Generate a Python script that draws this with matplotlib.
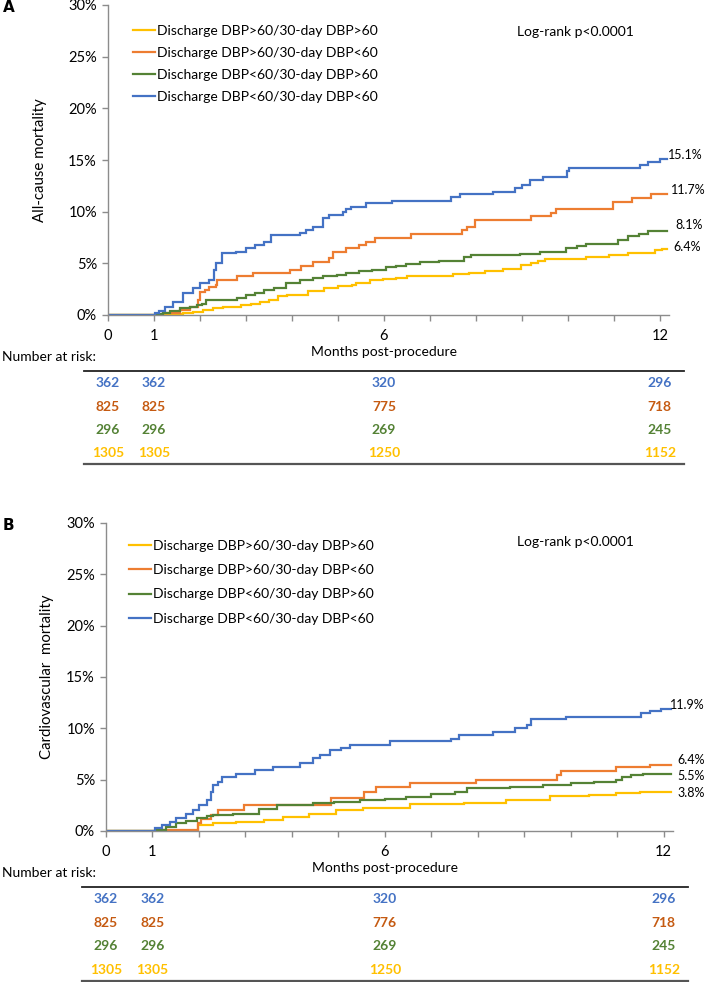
import matplotlib.pyplot as plt
from matplotlib.lines import Line2D
from matplotlib.transforms import blended_transform_factory

plt.rcParams['font.family'] = ['Lato', 'DejaVu Sans']

# groups in legend order
groups = ['Discharge DBP>60/30-day DBP>60', 'Discharge DBP>60/30-day DBP<60',
          'Discharge DBP<60/30-day DBP>60', 'Discharge DBP<60/30-day DBP<60']
line_colors = ['#FFC000', '#ED7D31', '#548235', '#4472C4']
risk_colors = ['#FFC000', '#C55A11', '#548235', '#4472C4']

# (month, cumulative %) change points
yellow_A = [(0, 0), (1.55, 0.1), (1.63, 0.16), (1.85, 0.25), (2.07, 0.5), (2.28, 0.65), (2.5, 0.74),
            (2.78, 0.8), (2.9, 0.97), (3.1, 1.1), (3.3, 1.3), (3.5, 1.5), (3.7, 1.8), (3.9, 1.94),
            (4.35, 2.35), (4.7, 2.6), (5.0, 2.8), (5.3, 2.9), (5.4, 3.1), (5.7, 3.35), (5.97, 3.45),
            (6.26, 3.55), (6.5, 3.8), (7.5, 4.0), (7.85, 4.1), (8.2, 4.3), (8.6, 4.5), (8.98, 4.84),
            (9.2, 5.0), (9.35, 5.2), (9.5, 5.45), (10.4, 5.6), (10.9, 5.8), (11.3, 6.0), (11.9, 6.3),
            (12.05, 6.4), (12.15, 6.4)]
orange_A = [(0, 0), (1.2, 0.2), (1.57, 0.5), (1.78, 0.74), (1.96, 1.45), (2.0, 2.25), (2.1, 2.4),
            (2.2, 2.7), (2.35, 2.9), (2.38, 3.4), (2.8, 3.8), (3.16, 4.1), (3.96, 4.35), (4.2, 4.7),
            (4.46, 5.1), (4.8, 5.5), (4.9, 6.1), (5.17, 6.45), (5.46, 6.8), (5.6, 7.1), (5.8, 7.5),
            (6.6, 7.8), (7.69, 8.2), (7.8, 8.55), (7.98, 9.2), (9.2, 9.6), (9.64, 9.9), (9.75, 10.26),
            (10.98, 10.97), (11.4, 11.35), (11.8, 11.7), (12.15, 11.7)]
green_A = [(0, 0), (1.04, 0.1), (1.2, 0.22), (1.35, 0.42), (1.57, 0.65), (1.78, 0.8), (1.93, 0.97),
           (2.04, 1.1), (2.14, 1.45), (2.8, 1.6), (3.0, 1.9), (3.2, 2.15), (3.4, 2.4), (3.6, 2.6),
           (3.88, 3.1), (4.17, 3.4), (4.46, 3.55), (4.68, 3.8), (4.97, 3.9), (5.17, 4.1), (5.46, 4.3),
           (5.75, 4.4), (6.05, 4.6), (6.26, 4.75), (6.49, 4.9), (6.78, 5.1), (7.2, 5.25), (7.75, 5.6),
           (7.9, 5.8), (8.96, 5.95), (9.4, 6.1), (9.95, 6.45), (10.2, 6.7), (10.4, 6.85), (11.1, 7.3),
           (11.3, 7.6), (11.55, 7.8), (11.75, 8.1), (12.15, 8.1)]
blue_A = [(0, 0), (1.02, 0.2), (1.1, 0.4), (1.24, 0.74), (1.42, 1.3), (1.63, 2.1), (1.85, 2.6),
          (2.0, 3.1), (2.2, 3.4), (2.3, 4.35), (2.35, 5.0), (2.49, 6.0), (2.78, 6.1), (3.0, 6.5),
          (3.2, 6.8), (3.4, 7.1), (3.55, 7.7), (4.17, 7.9), (4.3, 8.2), (4.45, 8.55), (4.68, 9.4),
          (4.8, 9.7), (5.1, 10.0), (5.17, 10.3), (5.28, 10.5), (5.62, 10.8), (6.17, 11.06),
          (7.47, 11.4), (7.65, 11.7), (8.37, 11.9), (8.85, 12.3), (9.0, 12.6), (9.17, 13.1),
          (9.46, 13.4), (9.98, 13.9), (10.03, 14.2), (11.57, 14.5), (11.75, 14.8), (12.0, 15.1),
          (12.15, 15.1)]

yellow_B = [(0, 0), (1.98, 0.58), (2.3, 0.75), (2.8, 0.9), (3.4, 1.1), (3.8, 1.4), (4.37, 1.7),
            (4.95, 2.0), (5.54, 2.2), (6.55, 2.6), (7.7, 2.75), (8.6, 3.0), (9.55, 3.4), (10.4, 3.5),
            (10.98, 3.7), (11.5, 3.8), (12.15, 3.8)]
orange_B = [(0, 0), (1.1, 0.1), (1.98, 0.75), (2.05, 1.2), (2.27, 1.56), (2.4, 2.0), (2.96, 2.5),
            (4.85, 3.2), (5.55, 3.8), (5.8, 4.3), (6.55, 4.64), (7.97, 4.97), (9.7, 5.45), (9.8, 5.8),
            (10.98, 6.2), (11.7, 6.4), (12.15, 6.4)]
green_B = [(0, 0), (1.08, 0.1), (1.3, 0.4), (1.5, 0.75), (1.73, 0.97), (1.96, 1.24), (2.17, 1.45),
           (2.3, 1.56), (2.74, 1.65), (3.3, 2.1), (3.67, 2.5), (4.46, 2.7), (4.9, 2.85), (5.46, 3.0),
           (6.0, 3.1), (6.45, 3.34), (7.0, 3.6), (7.5, 3.8), (7.76, 4.16), (8.7, 4.3), (9.4, 4.5),
           (10.0, 4.65), (10.5, 4.8), (10.98, 4.97), (11.1, 5.3), (11.3, 5.45), (11.55, 5.55),
           (12.15, 5.55)]
blue_B = [(0, 0), (1.05, 0.25), (1.2, 0.58), (1.37, 0.9), (1.5, 1.24), (1.73, 1.65), (1.87, 2.0),
          (2.0, 2.5), (2.17, 3.0), (2.27, 3.8), (2.31, 4.5), (2.4, 4.8), (2.5, 5.3), (2.8, 5.6),
          (3.2, 5.9), (3.6, 6.26), (4.17, 6.6), (4.46, 7.1), (4.6, 7.4), (4.82, 7.9), (5.05, 8.1),
          (5.25, 8.4), (6.1, 8.76), (7.43, 9.0), (7.6, 9.35), (8.33, 9.67), (8.8, 10.0), (9.05, 10.3),
          (9.15, 10.9), (9.9, 11.13), (11.52, 11.46), (11.7, 11.7), (11.95, 11.9), (12.15, 11.9)]

end_labels_A = ['6.4%', '11.7%', '8.1%', '15.1%']
end_labels_B = ['3.8%', '6.4%', '5.5%', '11.9%']

risk_months = [0, 1, 6, 12]
risk_A = [[1305, 1305, 1250, 1152], [825, 825, 775, 718], [296, 296, 269, 245], [362, 362, 320, 296]]
risk_B = [[1305, 1305, 1250, 1152], [825, 825, 776, 718], [296, 296, 269, 245], [362, 362, 320, 296]]

W, H = 709, 982
fig = plt.figure(figsize=(W / 100, H / 100), dpi=100)


def fx(px):
    return px / W


def fy(py):
    return 1 - py / H


# layout in reference pixels; rows_y follows legend order (yellow, orange, green, blue)
panels = [
    dict(letter='A', ylabel='All-cause mortality', curves=[yellow_A, orange_A, green_A, blue_A],
         ends=end_labels_A, end_pos=[(12.3, 6.6), (12.25, 12.1), (12.33, 8.7), (12.18, 15.5)],
         risk=risk_A, box=(108, 5, 669, 315), letter_y=8, ylab_x=40,
         legend_xy=(133, 25), leg_space=0.72, logrank_y=32, months_y=352, nrisk_y=357,
         rows_y=[453, 407, 430, 383], lines_y=(371, 464)),
    dict(letter='B', ylabel='Cardiovascular  mortality', curves=[yellow_B, orange_B, green_B, blue_B],
         ends=end_labels_B, end_pos=[(12.29, 3.67), (12.29, 6.9), (12.29, 5.36), (12.13, 12.27)],
         risk=risk_B, box=(106, 523, 673, 831), letter_y=525, ylab_x=47,
         legend_xy=(129, 540), leg_space=0.88, logrank_y=542, months_y=868, nrisk_y=873,
         rows_y=[970, 923, 946, 899], lines_y=(887, 981)),
]

for p in panels:
    l, t, r, b = p['box']
    ax = fig.add_axes([fx(l), fy(b), fx(r) - fx(l), fy(t) - fy(b)])

    for pts, col in zip(p['curves'], line_colors):
        xs = [q[0] for q in pts]
        ys = [q[1] for q in pts]
        ax.step(xs, ys, where='post', color=col, lw=1.6, solid_joinstyle='miter')

    ax.set_xlim(0, 12.2)
    ax.set_ylim(0, 30)
    ax.set_yticks(range(0, 31, 5))
    ax.set_yticklabels([f'{v}%' for v in range(0, 31, 5)])
    ax.set_xticks(range(13))
    ax.set_xticklabels([str(m) if m in risk_months else '' for m in range(13)])
    ax.tick_params(labelsize=10.5, length=4, width=1, color='#8c8c8c', pad=4)
    ax.tick_params(axis='x', pad=6)
    for s in ['top', 'right']:
        ax.spines[s].set_visible(False)
    for s in ['left', 'bottom']:
        ax.spines[s].set_color('#8c8c8c')
        ax.spines[s].set_linewidth(1)

    # y axis title, placed by hand like the original
    fig.text(fx(p['ylab_x']), fy((t + b) / 2), p['ylabel'], fontsize=10.8, rotation=90,
             ha='center', va='center')

    for (ex, ey), txt in zip(p['end_pos'], p['ends']):
        ax.text(ex, ey, txt, fontsize=9, va='center', ha='left', clip_on=False)

    handles = [Line2D([], [], color=c, lw=1.6) for c in line_colors]
    ax.legend(handles, groups, loc='upper left',
              bbox_to_anchor=(fx(p['legend_xy'][0]), fy(p['legend_xy'][1])),
              bbox_transform=fig.transFigure, frameon=False, fontsize=10, handlelength=1.6,
              handletextpad=0.15, labelspacing=p['leg_space'], borderpad=0, borderaxespad=0)

    fig.text(fx(517), fy(p['logrank_y']), 'Log-rank p<0.0001', fontsize=10, va='center', ha='left')
    fig.text(fx(3), fy(p['letter_y']), p['letter'], fontsize=11, fontweight='bold',
             family='DejaVu Sans', va='center', ha='left')

    # x axis title and number-at-risk table
    tr = blended_transform_factory(ax.transData, fig.transFigure)
    ax.text(6, fy(p['months_y']), 'Months post-procedure', transform=tr, fontsize=10,
            ha='center', va='center')
    fig.text(fx(2), fy(p['nrisk_y']), 'Number at risk:', fontsize=10, ha='left', va='center')
    y0, y1 = p['lines_y']
    ax.plot([-0.52, 12.52], [fy(y0), fy(y0)], transform=tr, color='#222222', lw=1.3, clip_on=False)
    ax.plot([-0.52, 12.52], [fy(y1), fy(y1)], transform=tr, color='#555555', lw=1.6, clip_on=False)
    for row, col, ry in zip(p['risk'], risk_colors, p['rows_y']):
        for m, n in zip(risk_months, row):
            ax.text(m, fy(ry), str(n), transform=tr, color=col, fontsize=10, fontweight='bold',
                    ha='center', va='center')

fig.savefig('out.png', dpi=100)
